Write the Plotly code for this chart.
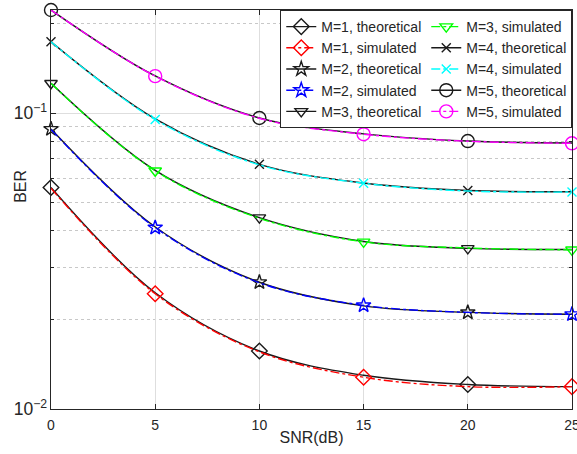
import plotly.graph_objects as go

snr = [0, 5, 10, 15, 20, 25]

theo_m1 = [0.0560, 0.0247, 0.0157, 0.0130, 0.0121, 0.0119]
sim_m1 = [0.0557, 0.0245, 0.0156, 0.0128, 0.0119, 0.0119]
theo_m2 = [0.0883, 0.0412, 0.0268, 0.0223, 0.0212, 0.0209]
sim_m2 = [0.0880, 0.0410, 0.0267, 0.0224, 0.0212, 0.0209]
theo_m3 = [0.126, 0.0640, 0.0443, 0.0368, 0.0349, 0.0346]
sim_m3 = [0.126, 0.0638, 0.0441, 0.0367, 0.0350, 0.0345]
theo_m4 = [0.174, 0.0955, 0.0671, 0.0580, 0.0547, 0.0542]
sim_m4 = [0.174, 0.0950, 0.0668, 0.0579, 0.0545, 0.0541]
theo_m5 = [0.2228, 0.1334, 0.0962, 0.0850, 0.0804, 0.0792]
sim_m5 = [0.2228, 0.1332, 0.0960, 0.0848, 0.0803, 0.0790]

x_ticks = [0, 5, 10, 15, 20, 25]
theo_marker_idx = [0, 2, 4]
sim_marker_idx = [1, 3, 5]

labels_theo = ["M=1, theoretical", "M=2, theoretical", "M=3, theoretical",
               "M=4, theoretical", "M=5, theoretical"]
labels_sim = ["M=1, simulated", "M=2, simulated", "M=3, simulated",
              "M=4, simulated", "M=5, simulated"]
theo_data = [theo_m1, theo_m2, theo_m3, theo_m4, theo_m5]
sim_data = [sim_m1, sim_m2, sim_m3, sim_m4, sim_m5]
sim_colors = ["#FF0000", "#0000FF", "#00FF00", "#00FFFF", "#FF00FF"]
symbols = ["diamond-open", "star-open", "triangle-down-open", "x-thin-open", "circle-open"]
sizes = [12, 11, 11, 9, 13]
theo_color = "#1a1a1a"

# legend: 2 columns x 5 rows (column-wise in the original), filled row-wise here
legend_order = ["M=1, theoretical", "M=3, simulated",
                "M=1, simulated", "M=4, theoretical",
                "M=2, theoretical", "M=4, simulated",
                "M=2, simulated", "M=5, theoretical",
                "M=3, theoretical", "M=5, simulated"]

fig = go.Figure()

def add_series(name, ys, color, dash, symbol, size, idx):
    fig.add_trace(go.Scatter(
        x=snr, y=ys, mode="lines", line=dict(color=color, width=1.4, dash=dash, shape="spline"),
        showlegend=False, hoverinfo="skip"))
    fig.add_trace(go.Scatter(
        x=[snr[i] for i in idx], y=[ys[i] for i in idx], mode="markers",
        marker=dict(symbol=symbol, size=size, color=color, line=dict(color=color, width=1.4)),
        showlegend=False, cliponaxis=False))
    fig.add_trace(go.Scatter(
        x=[None], y=[None], mode="lines+markers", name=name,
        line=dict(color=color, width=1.4, dash=dash),
        marker=dict(symbol=symbol, size=size, color=color, line=dict(color=color, width=1.4)),
        legendrank=legend_order.index(name) + 1))

for k in range(5):
    add_series(labels_theo[k], theo_data[k], theo_color, "solid", symbols[k], sizes[k], theo_marker_idx)
    add_series(labels_sim[k], sim_data[k], sim_colors[k], "dashdot", symbols[k], sizes[k], sim_marker_idx)

axis_col = "#262626"
fig.update_layout(
    width=577, height=454,
    margin=dict(l=51, r=5, t=10, b=45, autoexpand=False),
    paper_bgcolor="white", plot_bgcolor="white",
    font=dict(family="Liberation Sans, Arial, sans-serif", size=14, color=axis_col),
    legend=dict(orientation="h", x=1.0005, xanchor="right", y=1, yanchor="top",
                entrywidth=100, bgcolor="white", bordercolor=axis_col, borderwidth=1,
                font=dict(size=14), itemwidth=30, tracegroupgap=0),
    xaxis=dict(range=[0, 25], tickmode="array", tickvals=x_ticks, ticktext=[str(v) for v in x_ticks],
               ticks="inside", ticklen=5, tickcolor=axis_col, ticklabeloverflow="allow",
               ticklabelstandoff=3, automargin=False,
               tickfont=dict(size=14),
               showline=True, linecolor=axis_col, linewidth=1, mirror="ticks",
               showgrid=True, gridcolor="#dedede", gridwidth=1, zeroline=False,
               title=dict(text="SNR(dB)", font=dict(size=16), standoff=0)),
    yaxis=dict(type="log", range=[-2, -0.652], dtick=1, exponentformat="power",
               showexponent="all", ticks="inside", ticklen=5, tickcolor=axis_col,
               tickfont=dict(size=14), automargin=False,
               showline=True, linecolor=axis_col, linewidth=1, mirror="ticks",
               showgrid=True, gridcolor="#dedede", gridwidth=1, zeroline=False,
               minor=dict(dtick="D1", ticks="inside", ticklen=3, tickcolor=axis_col,
                          showgrid=True, gridcolor="#c8c8c8", griddash="dot")),
    annotations=[dict(text="BER", textangle=-90, xref="paper", yref="paper",
                      x=(21 - 51) / 521, y=(409.3 - 187) / 399.3,
                      xanchor="center", yanchor="middle", showarrow=False,
                      font=dict(size=16, color=axis_col))],
)

fig.write_html("out.html")
